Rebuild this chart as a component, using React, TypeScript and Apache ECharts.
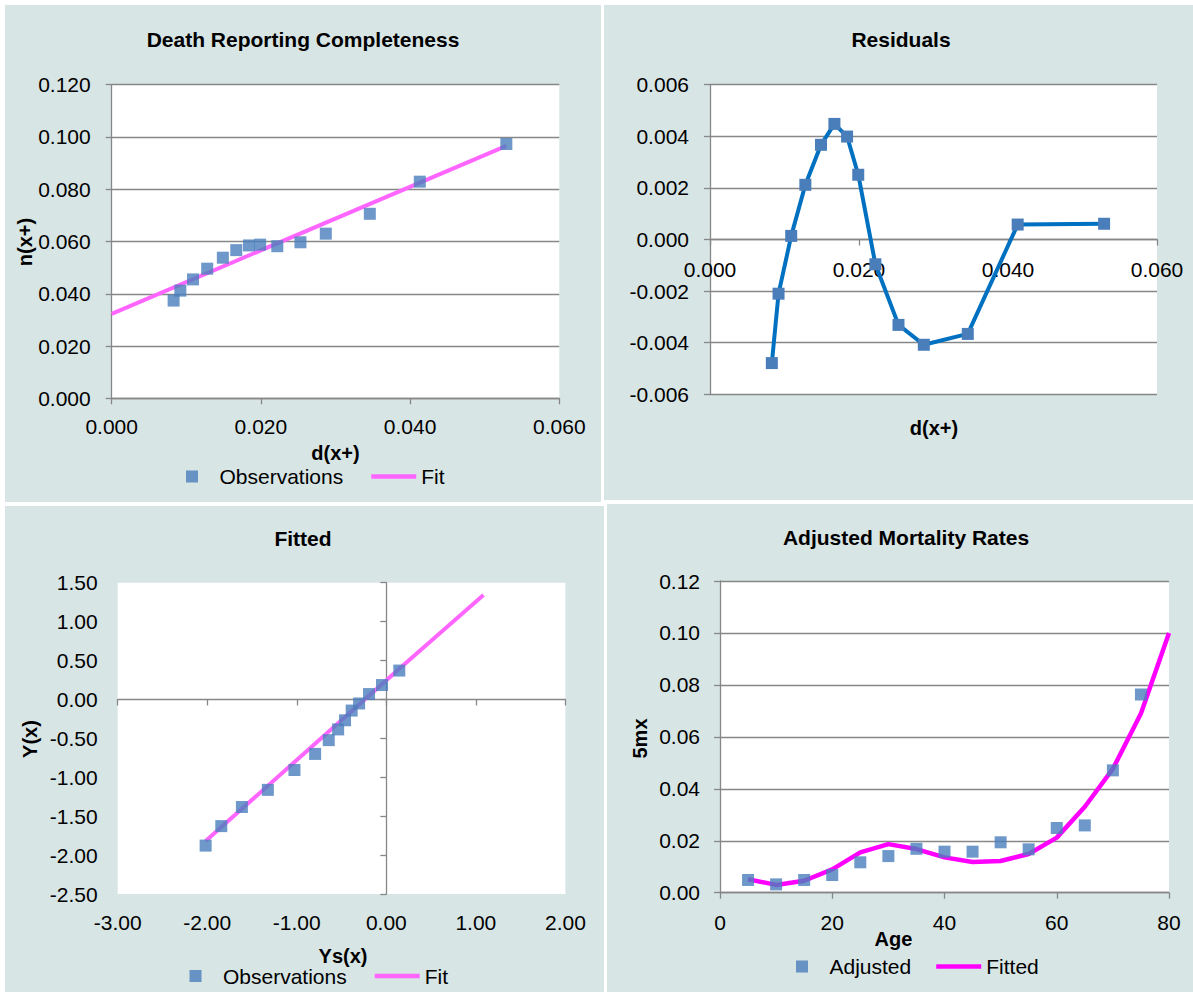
import React, { useEffect, useRef } from 'react';
import * as echarts from 'echarts';

const FONT = '"Liberation Sans", Arial, Helvetica, sans-serif';
const PANEL_BG = '#d8e5e5';
const GRAY = '#878787';
const BLUE = '#4a7ebb';
const PINK = '#ff66ff';
const MAGENTA = '#ff00ff';
const RES_LINE = '#0070c0';

// ---- Death Reporting Completeness / Residuals ----
const dxObs = [0.0083, 0.0092, 0.0109, 0.0128, 0.0149, 0.0167, 0.0184, 0.0199, 0.0222, 0.0253, 0.0287, 0.0346, 0.0413, 0.0529];
const nxObs = [0.0374, 0.0412, 0.0455, 0.0496, 0.0538, 0.0567, 0.0585, 0.0588, 0.0582, 0.0597, 0.063, 0.0706, 0.0829, 0.0973];
const fitDx = [0, 0.0529];
const fitNx = [0.0323, 0.0966];
const residuals = [-0.00479, -0.0021, 0.00014, 0.00212, 0.00367, 0.00448, 0.00399, 0.00251, -0.00096, -0.00331, -0.00408, -0.00366, 0.00058, 0.00061];

// ---- Fitted ----
const ysObs = [-2.018, -1.843, -1.613, -1.323, -1.026, -0.795, -0.643, -0.538, -0.461, -0.387, -0.304, -0.193, -0.048, 0.145];
const yObs = [-1.878, -1.628, -1.382, -1.162, -0.907, -0.7, -0.523, -0.385, -0.268, -0.143, -0.052, 0.069, 0.185, 0.371];
const ysFit = [-2.018, 0.145, 1.085];
const yFit = [-1.82, 0.393, 1.342];

// ---- Adjusted Mortality Rates ----
const ages = [5, 10, 15, 20, 25, 30, 35, 40, 45, 50, 55, 60, 65, 70, 75];
const adjusted = [0.0049, 0.0032, 0.0049, 0.0068, 0.0117, 0.0141, 0.0169, 0.0158, 0.0158, 0.0194, 0.0167, 0.0249, 0.0259, 0.0471, 0.0763];
const fitAges = [5, 10, 15, 20, 25, 30, 35, 40, 45, 50, 55, 60, 65, 70, 75, 80];
const fitted = [0.0052, 0.003, 0.0046, 0.009, 0.0155, 0.0187, 0.0168, 0.0136, 0.0118, 0.0122, 0.0149, 0.0212, 0.0331, 0.0477, 0.069, 0.1];

// axis ranges [min, max, interval]
const dRange = [0, 0.06, 0.02];
const nRange = [0, 0.12, 0.02];
const resRange = [-0.006, 0.006, 0.002];
const ysRange = [-3, 2, 1];
const yRange = [-2.5, 1.5, 0.5];
const ageRange = [0, 80, 20];
const mxRange = [0, 0.12, 0.02];

const fix = (d: number) => (v: number) => (Math.abs(v) < 1e-10 ? 0 : v).toFixed(d);

const lineStyle = { color: GRAY, width: 1.3 };

const SQUARE_ICON = 'path://M0,0L10,0L10,10L0,10Z';
const LINE_ICON = 'path://M0,0L45,0L45,4.5L0,4.5Z';

function label(margin: number, formatter: any) {
  return { show: true, color: '#000', fontSize: 21, fontFamily: FONT, margin, formatter };
}

function txt(text: string, x: number, y: number, rot = 0, size = 20) {
  return {
    type: 'text',
    x,
    y,
    rotation: rot,
    silent: true,
    style: {
      text,
      fill: '#000',
      font: `bold ${size}px ${FONT}`,
      align: 'center',
      verticalAlign: 'middle',
      textAlign: 'center',
      textVerticalAlign: 'middle',
    },
  };
}

function legend(left: number, top: number, gap: number, names: string[]) {
  return {
    left,
    top,
    padding: 0,
    itemWidth: 45,
    itemHeight: 12,
    itemGap: gap,
    selectedMode: false,
    textStyle: { fontSize: 21, fontFamily: FONT, color: '#000' },
    data: [{ name: names[0], icon: SQUARE_ICON }, { name: names[1], icon: LINE_ICON }],
  };
}

function stdAxis(range: number[], margin: number, fmt: any, split: boolean, offset = 0) {
  return {
    type: 'value',
    min: range[0],
    max: range[1],
    interval: range[2],
    offset,
    axisLine: { show: true, onZero: false, lineStyle },
    axisTick: { show: true, inside: false, length: 6, lineStyle },
    axisLabel: label(margin, fmt),
    splitLine: { show: split, lineStyle },
  };
}

const grid = (left: number, top: number, width: number, height: number) => ({
  left, top, width, height, show: true, backgroundColor: '#ffffff', borderWidth: 0,
});

const option1 = {
  animation: false,
  grid: grid(106.7, 79.7, 447.6, 313.6),
  xAxis: stdAxis(dRange, 18, fix(3), false),
  yAxis: stdAxis(nRange, 21, fix(3), true),
  legend: legend(181, 461, 28, ['Observations', 'Fit']),
  series: [
    {
      name: 'Fit', type: 'line', data: fitDx.map((x, i) => [x, fitNx[i]]),
      symbol: 'none', lineStyle: { color: PINK, width: 4 }, itemStyle: { color: PINK }, z: 2,
    },
    {
      name: 'Observations', type: 'scatter', data: dxObs.map((x, i) => [x, nxObs[i]]),
      symbol: 'rect', symbolSize: 12, itemStyle: { color: BLUE }, z: 3,
    },
  ],
  graphic: [
    txt('Death Reporting Completeness', 298, 34, 0, 21),
    txt('d(x+)', 330.5, 448),
    txt('n(x+)', 20, 237, Math.PI / 2),
  ],
};

// Residuals: the x axis sits at y = 0, which is the middle of the symmetric y range.
const RES_GRID_H = 309.6;
const option2 = {
  animation: false,
  grid: grid(106, 79.7, 447, RES_GRID_H),
  xAxis: stdAxis(dRange, 19, fix(3), false, -RES_GRID_H / 2),
  yAxis: stdAxis(resRange, 21, fix(3), true),
  series: [
    {
      name: 'Residuals', type: 'line', data: dxObs.map((x, i) => [x, residuals[i]]),
      symbol: 'rect', symbolSize: 12, showSymbol: true,
      lineStyle: { color: RES_LINE, width: 4 }, itemStyle: { color: BLUE }, z: 3,
    },
  ],
  graphic: [txt('Residuals', 297, 34, 0, 21), txt('d(x+)', 330, 423)],
};

const option3 = {
  animation: false,
  grid: grid(112.7, 76.7, 447.7, 311.3),
  xAxis: [
    {
      type: 'value', min: ysRange[0], max: ysRange[1], interval: ysRange[2], position: 'bottom',
      axisLine: { show: false, onZero: false }, axisTick: { show: false },
      axisLabel: label(18, fix(2)), splitLine: { show: false },
    },
    {
      type: 'value', min: ysRange[0], max: ysRange[1], interval: ysRange[2], position: 'bottom',
      axisLine: { show: true, onZero: true, onZeroAxisIndex: 0, lineStyle },
      axisTick: { show: true, length: 6, lineStyle }, axisLabel: { show: false }, splitLine: { show: false },
    },
  ],
  yAxis: [
    {
      type: 'value', min: yRange[0], max: yRange[1], interval: yRange[2], position: 'left',
      axisLine: { show: false, onZero: false }, axisTick: { show: false },
      axisLabel: label(20, fix(2)), splitLine: { show: false },
    },
    {
      type: 'value', min: yRange[0], max: yRange[1], interval: yRange[2], position: 'left',
      axisLine: { show: true, onZero: true, onZeroAxisIndex: 0, lineStyle },
      axisTick: { show: true, length: 6, lineStyle }, axisLabel: { show: false }, splitLine: { show: false },
    },
  ],
  legend: legend(184.5, 459.5, 28, ['Observations', 'Fit']),
  series: [
    {
      name: 'Fit', type: 'line', xAxisIndex: 0, yAxisIndex: 0, data: ysFit.map((x, i) => [x, yFit[i]]),
      symbol: 'none', lineStyle: { color: PINK, width: 4 }, itemStyle: { color: PINK }, z: 2,
    },
    {
      name: 'Observations', type: 'scatter', xAxisIndex: 0, yAxisIndex: 0, data: ysObs.map((x, i) => [x, yObs[i]]),
      symbol: 'rect', symbolSize: 12, itemStyle: { color: BLUE }, z: 3,
    },
  ],
  graphic: [txt('Fitted', 298, 32, 0, 21), txt('Ys(x)', 338, 450), txt('Y(x)', 25, 233, Math.PI / 2)],
};

const option4 = {
  animation: false,
  grid: grid(113, 77, 449, 311.7),
  xAxis: stdAxis(ageRange, 19, (v: number) => String(v), false),
  yAxis: stdAxis(mxRange, 20, fix(2), true),
  legend: legend(189, 452, 25, ['Adjusted', 'Fitted']),
  series: [
    {
      name: 'Fitted', type: 'line', data: fitAges.map((x, i) => [x, fitted[i]]),
      symbol: 'none', lineStyle: { color: MAGENTA, width: 4.5 }, itemStyle: { color: MAGENTA }, z: 2,
    },
    {
      name: 'Adjusted', type: 'scatter', data: ages.map((x, i) => [x, adjusted[i]]),
      symbol: 'rect', symbolSize: 12, itemStyle: { color: BLUE }, z: 3,
    },
  ],
  graphic: [txt('Adjusted Mortality Rates', 299, 33, 0, 21), txt('Age', 286.5, 435), txt('5mx', 33, 234.5, Math.PI / 2)],
};

function Panel(props: { left: number; top: number; width: number; height: number; option: any }) {
  const ref = useRef<HTMLDivElement>(null);
  useEffect(() => {
    const chart = echarts.init(ref.current as HTMLDivElement, null, { renderer: 'svg' });
    chart.setOption(props.option);
    return () => chart.dispose();
  }, []);
  return (
    <div
      style={{
        position: 'absolute', left: props.left, top: props.top, width: props.width, height: props.height,
        background: PANEL_BG,
      }}
    >
      <div ref={ref} style={{ width: props.width, height: props.height }} />
    </div>
  );
}

export default function App() {
  return (
    <div style={{ position: 'fixed', left: 0, top: 0, width: 1193, height: 992, background: '#ffffff', overflow: 'hidden' }}>
      <Panel left={5} top={5} width={596} height={497} option={option1} />
      <Panel left={604} top={5} width={589} height={495} option={option2} />
      <Panel left={5} top={506} width={599} height={486} option={option3} />
      <Panel left={607} top={504} width={586} height={488} option={option4} />
    </div>
  );
}
